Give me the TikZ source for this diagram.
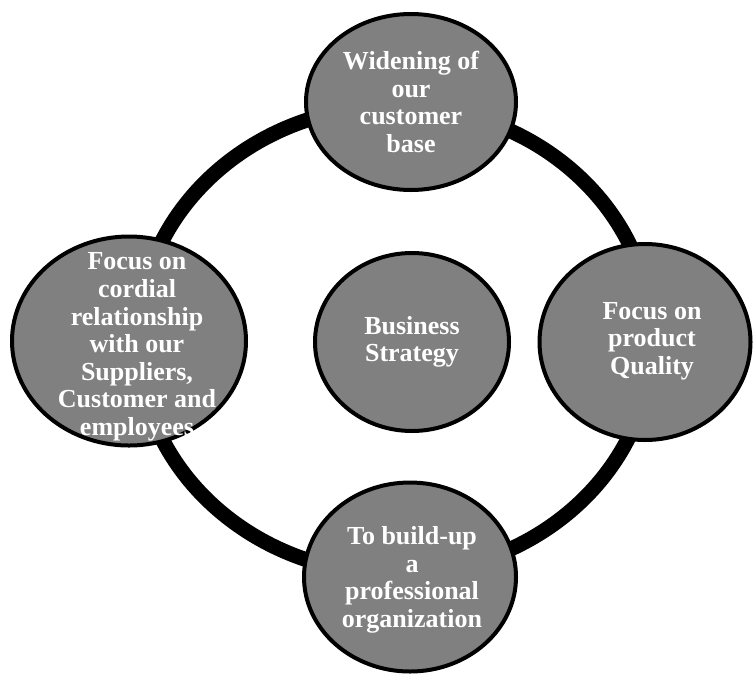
\documentclass[tikz,border=0pt]{standalone}
\usepackage{fontspec}
\setmainfont{Liberation Serif}
\usetikzlibrary{shapes.geometric}
\begin{document}
\begin{tikzpicture}[x=1pt,y=-1pt,
  bubble/.style={ellipse,draw=black,line width=4pt,fill=black!50,inner sep=0pt},
  lbl/.style={text=white,font=\bfseries\fontsize{26}{27.6}\selectfont,align=center,inner sep=0pt}]
\useasboundingbox (0,0) rectangle (754,678);
\coordinate (hub) at (395,340);
\draw[line width=15pt] (hub) ellipse [x radius=257, y radius=234];
\node[bubble,minimum width=210pt,minimum height=176pt] (base) at (411,102) {};
\node[bubble,minimum width=234pt,minimum height=209pt] (rel) at (129,341) {};
\node[bubble,minimum width=211pt,minimum height=196pt] (qual) at (645,342) {};
\node[bubble,minimum width=212pt,minimum height=189pt] (org) at (410,577) {};
\node[bubble,minimum width=194pt,minimum height=178pt] (strat) at (412,342) {};
\node[lbl] (basetxt) at (411,102) {Widening of\\our\\customer\\base};
\node[lbl] (reltxt) at (137,347) {Focus on\\cordial\\relationship\\with our\\Suppliers,\\Customer and\\employees};
\node[lbl] (qualtxt) at (652,341) {Focus on\\product\\Quality};
\node[lbl] (orgtxt) at (412,580) {To build-up\\a\\professional\\organization};
\node[lbl] (strattxt) at (412,342) {Business\\Strategy};
\end{tikzpicture}
\end{document}
